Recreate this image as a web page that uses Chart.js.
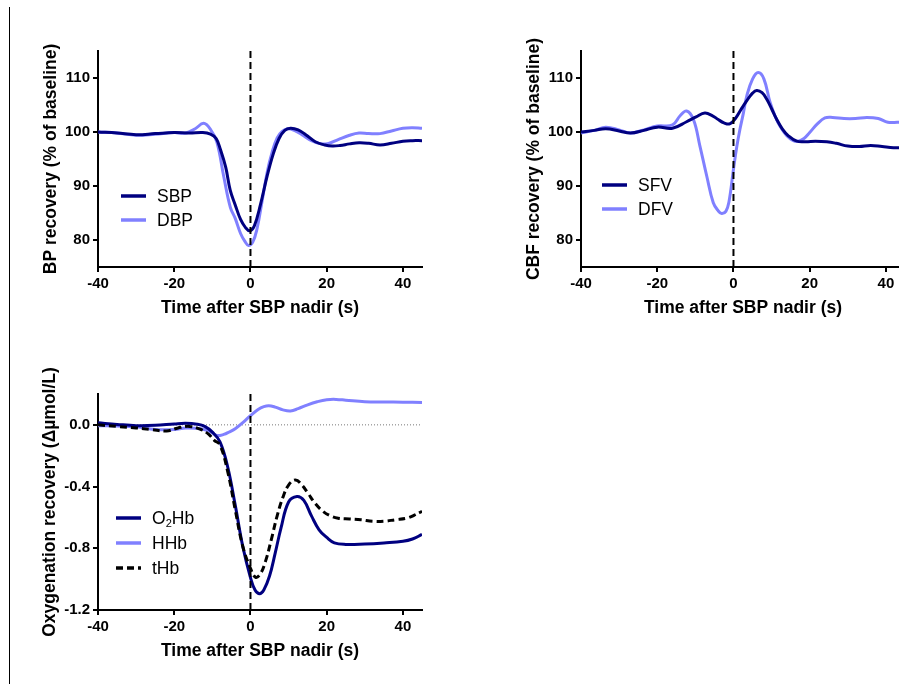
<!DOCTYPE html>
<html>
<head>
<meta charset="utf-8">
<title>Recovery after SBP nadir</title>
<script src="https://cdn.jsdelivr.net/npm/chart.js"></script>
<style>
  html, body { margin: 0; padding: 0; overflow: hidden; background: #fff; }
  body { position: relative; width: 899px; height: 684px; font-family: "Liberation Sans", Arial, sans-serif; }
  canvas { position: absolute; }
  .rule { position: absolute; left: 9px; top: 7px; width: 1px; height: 677px; background: #000; }
  .legrow { position: absolute; height: 20px; white-space: nowrap; font-size: 17.5px; color: #000; }
  .legrow svg { position: absolute; left: 0; top: 7px; }
  .legrow span { position: absolute; top: 0; line-height: 20px; }
  .legrow sub { font-size: 11px; vertical-align: -3px; line-height: 0; }
</style>
</head>
<body>
<div class="rule"></div>
<canvas id="bp" width="440" height="320" style="left:0;top:0"></canvas>
<canvas id="cbf" width="500" height="320" style="left:440px;top:0"></canvas>
<canvas id="oxy" width="440" height="344" style="left:0;top:340px"></canvas>

<script>
// time axis (s after SBP nadir)
var xTicks = [-40, -20, 0, 20, 40];
var nadir = 0;

// BP recovery (% of baseline)
var bpTicks = [80, 90, 100, 110];
var sbpTime = [-40,-35,-30,-25,-20,-16,-12.5,-10.5,-9,-7.9,-6.5,-5.3,-4,-2.6,-1.3,-0.2,1,2.6,4.4,6,7.5,9,10.5,12.5,14.5,17,19.5,21.5,23.5,26,28.5,31,34,37,40,42.5,45];
var sbpVal  = [100,99.8,99.5,99.7,99.9,99.8,99.9,99.6,98.8,96.8,93.5,89.2,86.5,83.8,82.3,81.7,82.6,86.5,91.9,96,98.8,100.3,100.7,100.4,99.5,98.2,97.6,97.4,97.5,97.8,98.0,97.9,97.6,97.9,98.3,98.4,98.4];
var dbpTime = [-40,-35,-30,-25,-20,-17,-14.5,-12.3,-10.5,-8.8,-7,-5.3,-4,-2.6,-1.5,-0.5,0.6,1.7,3,4.4,5.7,7,8.3,9.8,11.5,13.5,16,18.5,20.5,23,26,28.5,31,34,37,40,42.5,45];
var dbpVal  = [100,99.8,99.4,99.6,99.9,99.8,100.6,101.6,100.5,98.1,91.7,86.1,84.0,81.2,79.8,79.0,79.6,82,87,92.6,96.3,98.9,100.1,100.6,100.3,99.5,98.4,97.8,97.9,98.6,99.4,99.8,99.7,99.7,100.2,100.7,100.8,100.7];

// CBF recovery (% of baseline)
var cbfTicks = [80, 90, 100, 110];
var sfvTime = [-40,-36.5,-33.5,-30,-27,-23.5,-20,-16,-12.3,-9.8,-7.5,-5.5,-4,-2.5,-1,0.5,2,3.5,5,6.1,7.5,8.7,10,11.3,12.8,14.4,16.6,19,21.5,24.5,27,30,33,36,39,42,45];
var sfvVal  = [100,100.3,100.6,100.2,99.8,100.3,100.9,100.7,101.9,102.8,103.5,103.0,102.3,101.7,101.5,102.5,104.2,105.8,107.2,107.7,107.3,106.1,104.3,102.4,100.6,99.3,98.3,98.2,98.3,98.2,97.9,97.4,97.3,97.5,97.3,97.1,97.1];
var dfvTime = [-40,-36.5,-33.5,-30,-27,-23.5,-20,-16,-14,-12.3,-10.5,-8.8,-7,-5.3,-4,-3.1,-2,-1.2,0,0.8,1.7,2.6,3.5,5,6.5,8,9.6,11,12.2,14,15.7,17,18.5,20,22,24,26,29,32,35,38,40.5,43,45];
var dfvVal  = [99.8,100.3,100.9,100.4,99.8,100.4,101.1,101.3,103.0,103.9,102.3,97.4,91.8,86.9,85.4,84.9,85.3,87,93.1,97,100.5,103.5,106.7,109.8,111,109.8,105.5,102.8,101.1,99.3,98.4,98.3,98.8,99.9,101.5,102.6,102.7,102.5,102.5,102.7,102.5,101.8,101.8,101.9];

// Oxygenation recovery (delta umol/L)
var oxyTicks = [-1.2, -0.8, -0.4, 0.0];
var o2hbTime = [-40,-35,-30,-25,-20,-17,-14,-12,-10,-8,-6,-4,-2,0,1.2,2.4,3.5,5,6.5,8,10,12.2,14,16,18,20,22,25,30,35,40,42.5,45];
var o2hbVal  = [0.013,0.003,-0.005,-0.003,0.006,0.01,0.004,-0.01,-0.047,-0.11,-0.27,-0.52,-0.79,-0.99,-1.07,-1.094,-1.07,-0.98,-0.83,-0.67,-0.5,-0.464,-0.49,-0.59,-0.68,-0.73,-0.765,-0.775,-0.772,-0.765,-0.755,-0.74,-0.71];
var hhbTime = [-40,-35,-30,-25,-20,-17,-13,-10.5,-8.8,-7,-5.5,-4,-2,0,2,3.5,4.8,6.5,8.5,10.5,12.5,15,17.5,20,22.5,25,30,35,40,45];
var hhbVal  = [-0.005,-0.008,-0.012,-0.03,-0.03,-0.02,-0.025,-0.045,-0.069,-0.062,-0.045,-0.025,0.015,0.06,0.1,0.118,0.124,0.115,0.097,0.09,0.105,0.13,0.15,0.163,0.165,0.16,0.15,0.148,0.147,0.145];
var thbTime = [-40,-35,-30,-26,-22,-19,-16,-13,-11,-9.5,-8,-6,-4,-2,0,1.3,2.5,4,5.5,7,8.5,10,11.8,13.5,15,17,19,21,23,26,29,32,35,38,41,43,45];
var thbVal  = [0.0,-0.01,-0.02,-0.03,-0.04,-0.02,-0.01,-0.03,-0.06,-0.1,-0.13,-0.30,-0.55,-0.79,-0.93,-0.987,-0.97,-0.88,-0.74,-0.59,-0.47,-0.39,-0.357,-0.39,-0.44,-0.51,-0.56,-0.59,-0.605,-0.61,-0.615,-0.625,-0.625,-0.615,-0.605,-0.585,-0.56];

var NAVY = '#000080';
var LIGHT = '#8080ff';

Chart.defaults.font.family = '"Liberation Sans", Arial, sans-serif';
Chart.defaults.color = '#000';

function pts(ts, vs) {
  return ts.map(function (t, i) { return { x: t, y: vs[i] }; });
}

function curve(label, ts, vs, color, dash, order) {
  return {
    label: label, data: pts(ts, vs), borderColor: color, borderWidth: 3,
    borderDash: dash || [], pointRadius: 0, tension: 0.4,
    fill: false, order: order
  };
}

function nadirLine(ymin, ymax) {
  return {
    label: 'nadir', data: [{ x: nadir, y: ymin }, { x: nadir, y: ymax }],
    borderColor: '#000', borderWidth: 2, borderDash: [7, 4], pointRadius: 0, order: 0
  };
}

function makeChart(id, o) {
  var ctx = document.getElementById(id).getContext('2d');
  return new Chart(ctx, {
    type: 'line',
    data: { datasets: o.datasets },
    options: {
      responsive: false,
      animation: false,
      devicePixelRatio: 1,
      layout: { padding: o.padding, autoPadding: false },
      plugins: { legend: { display: false }, tooltip: { enabled: false } },
      scales: {
        x: {
          type: 'linear', min: -40, max: 45,
          afterBuildTicks: function (s) { s.ticks = xTicks.map(function (v) { return { value: v }; }); },
          afterFit: function (s) { s.height = 53; },
          grid: { drawOnChartArea: false, color: '#000', lineWidth: 2, tickLength: 5 },
          border: { color: '#000', width: 2 },
          ticks: { font: { size: 15, weight: 'bold' }, padding: 3, maxRotation: 0,
                   callback: function (v) { return String(v); } },
          title: { display: true, text: 'Time after SBP nadir (s)', font: { size: 17.5, weight: 'bold' },
                   padding: { top: 0, bottom: 1.5 } }
        },
        y: {
          min: o.ymin, max: o.ymax,
          afterBuildTicks: function (s) { s.ticks = o.yticks.map(function (v) { return { value: v }; }); },
          afterFit: function (s) { s.width = 98; },
          grid: { drawOnChartArea: false, color: '#000', lineWidth: 2, tickLength: 5 },
          border: { color: '#000', width: 2 },
          ticks: { font: { size: 15, weight: 'bold' }, padding: 3, callback: o.yfmt },
          title: { display: true, text: o.ytitle, font: { size: 17.5, weight: 'bold' },
                   padding: { top: o.titlePad, bottom: 0 } }
        }
      }
    }
  });
}

function addLegend(left, top, step, entries) {
  entries.forEach(function (e, i) {
    var row = document.createElement('div');
    row.className = 'legrow';
    row.style.left = left + 'px';
    row.style.top = (top + i * step - 10) + 'px';
    row.innerHTML = '<svg width="25" height="6"><line x1="0" y1="3" x2="25" y2="3" stroke="' + e.color +
      '" stroke-width="3.5"' + (e.dash ? ' stroke-dasharray="7 4"' : '') + '/></svg>' +
      '<span style="left:36px">' + e.html + '</span>';
    document.body.appendChild(row);
  });
}

makeChart('bp', {
  padding: { left: 0, top: 51, right: 18, bottom: 0 },
  ymin: 75, ymax: 115, yticks: bpTicks, titlePad: 41,
  ytitle: 'BP recovery (% of baseline)',
  yfmt: function (v) { return String(v); },
  datasets: [
    nadirLine(75, 115),
    curve('SBP', sbpTime, sbpVal, NAVY, null, 1),
    curve('DBP', dbpTime, dbpVal, LIGHT, null, 2)
  ]
});

makeChart('cbf', {
  padding: { left: 43, top: 51, right: 35, bottom: 0 },
  ymin: 75, ymax: 115, yticks: cbfTicks, titlePad: 40.5,
  ytitle: 'CBF recovery (% of baseline)',
  yfmt: function (v) { return String(v); },
  datasets: [
    nadirLine(75, 115),
    curve('SFV', sfvTime, sfvVal, NAVY, null, 1),
    curve('DFV', dfvTime, dfvVal, LIGHT, null, 2)
  ]
});

makeChart('oxy', {
  padding: { left: 0, top: 54, right: 18, bottom: 21 },
  ymin: -1.2, ymax: 0.2, yticks: oxyTicks, titlePad: 40,
  ytitle: 'Oxygenation recovery (\u0394\u00b5mol/L)',
  yfmt: function (v) { return v.toFixed(1); },
  datasets: [
    nadirLine(-1.2, 0.2),
    curve('tHb', thbTime, thbVal, '#000', [7, 4], 1),
    curve('O\u2082Hb', o2hbTime, o2hbVal, NAVY, null, 2),
    curve('HHb', hhbTime, hhbVal, LIGHT, null, 3),
    { label: 'zero', data: [{ x: -40, y: 0 }, { x: 45, y: 0 }], borderColor: '#777', borderWidth: 1,
      borderDash: [1, 2], pointRadius: 0, order: 4 }
  ]
});

addLegend(121, 196, 23.5, [
  { color: NAVY, html: 'SBP' },
  { color: LIGHT, html: 'DBP' }
]);
addLegend(602, 185, 23.5, [
  { color: NAVY, html: 'SFV' },
  { color: LIGHT, html: 'DFV' }
]);
addLegend(116, 518, 25, [
  { color: NAVY, html: 'O<sub>2</sub>Hb' },
  { color: LIGHT, html: 'HHb' },
  { color: '#000', html: 'tHb', dash: true }
]);
</script>
</body>
</html>
